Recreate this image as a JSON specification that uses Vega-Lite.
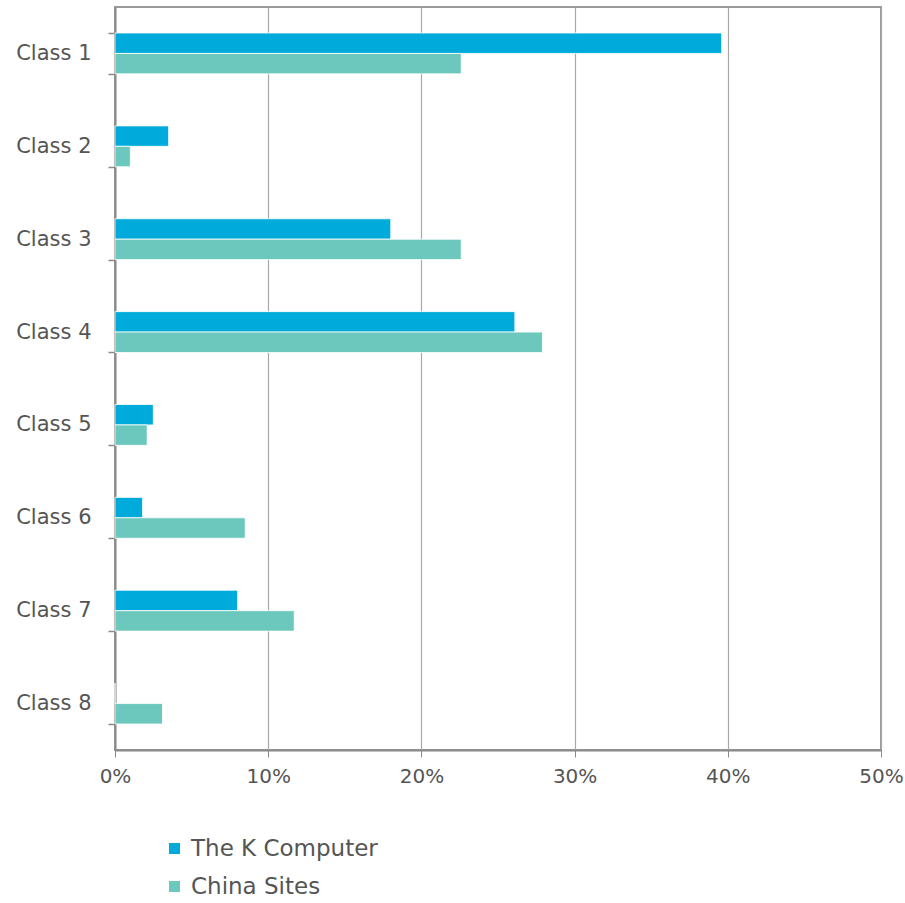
{
  "$schema": "https://vega.github.io/schema/vega-lite/v6.json",
  "width": 766,
  "height": 743,
  "autosize": {"type": "none"},
  "padding": {"left": 115, "top": 7, "right": 24, "bottom": 153},
  "background": "white",
  "config": {
    "view": {"stroke": "#9a9a9a", "strokeWidth": 2},
    "font": "DejaVu Sans"
  },
  "data": {
    "values": [
      {"cls": "Class 1", "series": "The K Computer", "v": 0.396},
      {"cls": "Class 1", "series": "China Sites", "v": 0.226},
      {"cls": "Class 2", "series": "The K Computer", "v": 0.035},
      {"cls": "Class 2", "series": "China Sites", "v": 0.010},
      {"cls": "Class 3", "series": "The K Computer", "v": 0.180},
      {"cls": "Class 3", "series": "China Sites", "v": 0.226},
      {"cls": "Class 4", "series": "The K Computer", "v": 0.261},
      {"cls": "Class 4", "series": "China Sites", "v": 0.279},
      {"cls": "Class 5", "series": "The K Computer", "v": 0.025},
      {"cls": "Class 5", "series": "China Sites", "v": 0.021},
      {"cls": "Class 6", "series": "The K Computer", "v": 0.018},
      {"cls": "Class 6", "series": "China Sites", "v": 0.085},
      {"cls": "Class 7", "series": "The K Computer", "v": 0.080},
      {"cls": "Class 7", "series": "China Sites", "v": 0.117},
      {"cls": "Class 8", "series": "The K Computer", "v": 0.0},
      {"cls": "Class 8", "series": "China Sites", "v": 0.031}
    ]
  },
  "mark": {"type": "bar", "stroke": "white", "strokeWidth": 1, "strokeOpacity": 0.8},
  "encoding": {
    "y": {
      "field": "cls",
      "type": "nominal",
      "sort": null,
      "scale": {"paddingInner": 0.56, "paddingOuter": 0.28},
      "axis": {
        "title": null,
        "tickBand": "extent",
        "domainColor": "#8a8a8a",
        "domainWidth": 2,
        "tickColor": "#8a8a8a",
        "tickWidth": 1.5,
        "tickSize": 7,
        "labelFontSize": 21,
        "labelColor": "#555555",
        "labelPadding": 17,
        "labelFont": "DejaVu Sans"
      }
    },
    "yOffset": {
      "field": "series",
      "type": "nominal",
      "sort": ["The K Computer", "China Sites"]
    },
    "x": {
      "field": "v",
      "type": "quantitative",
      "scale": {"domain": [0, 0.5], "nice": false},
      "axis": {
        "title": null,
        "format": ".0%",
        "values": [0, 0.1, 0.2, 0.3, 0.4, 0.5],
        "labelFlush": false,
        "grid": true,
        "gridColor": "#a8a8a8",
        "gridWidth": 1.2,
        "domainColor": "#8a8a8a",
        "domainWidth": 2,
        "tickColor": "#8a8a8a",
        "tickSize": 7,
        "labelFontSize": 20,
        "labelColor": "#555555",
        "labelPadding": 9,
        "labelFont": "DejaVu Sans"
      }
    },
    "color": {
      "field": "series",
      "type": "nominal",
      "scale": {"domain": ["The K Computer", "China Sites"], "range": ["#00AADB", "#6CC7BD"]},
      "legend": {
        "title": null,
        "orient": "none",
        "legendX": 48,
        "legendY": 830,
        "symbolType": "square",
        "symbolSize": 121,
        "symbolStrokeWidth": 0,
        "labelFontSize": 23,
        "labelLimit": 400,
        "labelColor": "#555555",
        "labelFont": "DejaVu Sans",
        "rowPadding": 14,
        "labelOffset": 5
      }
    }
  }
}
